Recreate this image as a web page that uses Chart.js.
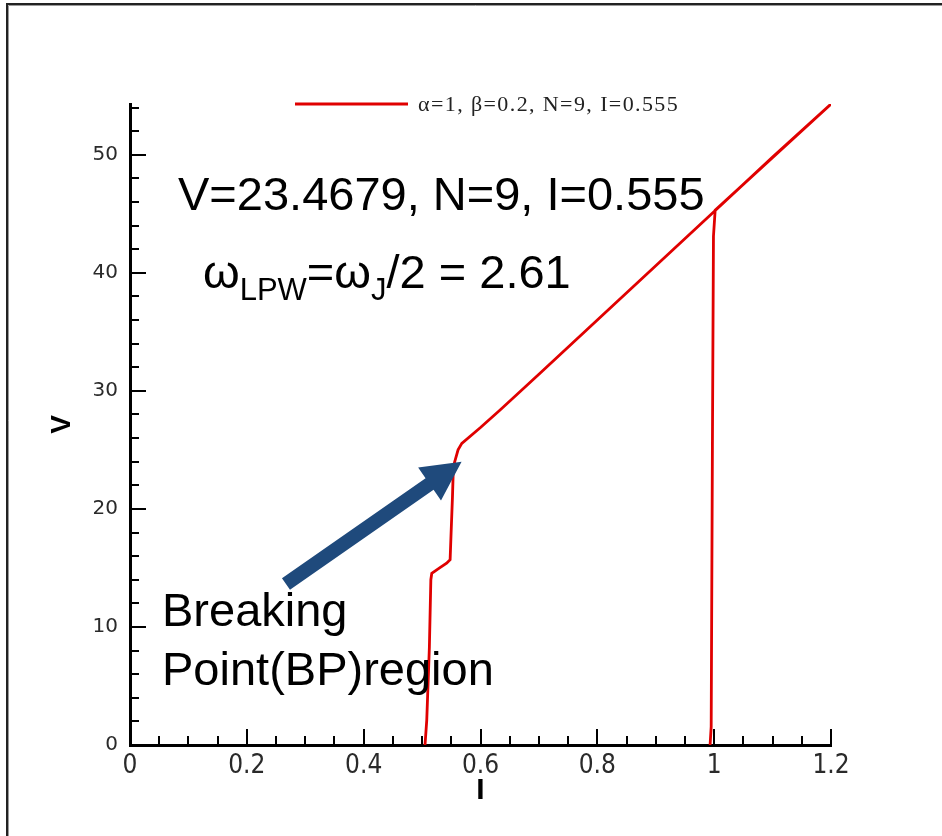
<!DOCTYPE html>
<html>
<head>
<meta charset="utf-8">
<style>
  html, body { margin: 0; padding: 0; background: #fff; }
  #wrap { width: 942px; height: 836px; }
</style>
<script src="https://cdn.jsdelivr.net/npm/chart.js@4.4.1/dist/chart.umd.min.js"></script>
</head>
<body>
<div id="wrap"><canvas id="ivChart" width="942" height="836"></canvas></div>
<script>
// I-V curve (sweep up, then back down from I=1.2)
const currentI = [0.505, 0.508, 0.5125, 0.515, 0.5166, 0.530, 0.542, 0.548, 0.5497, 0.552, 0.5536,
  0.5616, 0.568, 0.600, 0.634, 0.700, 0.800, 0.900, 1.000, 1.100, 1.200,
  1.0017, 0.9988, 0.997, 0.9949, 0.993];
const voltageV = [0, 2.1, 8.3, 14.0, 14.55, 15.0, 15.4, 15.7, 18.0, 21.0, 23.6,
  25.0, 25.55, 26.9, 28.4, 31.4, 36.0, 40.6, 45.2, 49.8, 54.3,
  45.3, 43.1, 25.3, 1.55, 0];
const seriesLabel = 'α=1, β=0.2, N=9, I=0.555';
const xTicks = [0, 0.2, 0.4, 0.6, 0.8, 1, 1.2];
const yTicks = [0, 10, 20, 30, 40, 50];

// arrow from label to breaking point, in data units
const arrowTail = [0.267, 13.64];
const arrowTip = [0.5676, 24.0];

const points = currentI.map((v, i) => ({ x: v, y: voltageV[i] }));

const SANS = '"Liberation Sans", Arial, sans-serif';

// frame, legend, inward ticks, notes and arrow
const decorations = {
  id: 'decorations',
  beforeDraw(chart) {
    const ctx = chart.ctx;
    ctx.save();
    ctx.strokeStyle = '#9a9a9a';
    ctx.lineWidth = 1;
    ctx.beginPath();
    ctx.moveTo(8.5, 836); ctx.lineTo(8.5, 5.5); ctx.lineTo(942, 5.5);
    ctx.stroke();
    ctx.strokeStyle = '#222';
    ctx.lineWidth = 2;
    ctx.beginPath();
    ctx.moveTo(7, 836); ctx.lineTo(7, 4); ctx.lineTo(942, 4);
    ctx.stroke();
    ctx.restore();
  },
  afterDatasetsDraw(chart) {
    const { ctx, scales: { x, y } } = chart;
    ctx.save();

    // inward tick marks
    ctx.strokeStyle = '#000';
    ctx.lineWidth = 2;
    ctx.beginPath();
    for (let i = 0; i <= 24; i++) {
      const px = Math.round(x.getPixelForValue(i * 0.05));
      const len = i % 4 === 0 ? 16 : 9;
      ctx.moveTo(px, y.bottom); ctx.lineTo(px, y.bottom - len);
    }
    for (let i = 0; i * 2 <= y.max; i++) {
      const py = Math.round(y.getPixelForValue(i * 2));
      const len = i % 5 === 0 ? 16 : 9;
      ctx.moveTo(x.left, py); ctx.lineTo(x.left + len, py);
    }
    ctx.stroke();

    // legend
    const ds = chart.data.datasets[0];
    ctx.strokeStyle = ds.borderColor;
    ctx.lineWidth = 3;
    ctx.beginPath();
    ctx.moveTo(295, 104); ctx.lineTo(408, 104);
    ctx.stroke();
    ctx.fillStyle = '#222';
    ctx.font = '22px "Liberation Serif", "Times New Roman", serif';
    ctx.letterSpacing = '1.4px';
    ctx.textBaseline = 'alphabetic';
    ctx.textAlign = 'left';
    ctx.fillText(ds.label, 418, 111);
    ctx.letterSpacing = '0px';

    // notes
    ctx.fillStyle = '#000';
    ctx.font = '47px ' + SANS;
    ctx.fillText('V=23.4679, N=9, I=0.555', 178, 210);
    ctx.fillText('Breaking', 162, 626);
    ctx.fillText('Point(BP)region', 162, 685);

    let cx = 203;
    const big = '47px ' + SANS, small = '31px ' + SANS;
    const part = (txt, font, base) => {
      ctx.font = font;
      ctx.fillText(txt, cx, base);
      cx += ctx.measureText(txt).width;
    };
    part('ω', big, 288);
    part('LPW', small, 300);
    part('=ω', big, 288);
    part('J', small, 300);
    part('/2 = 2.61', big, 288);

    // arrow
    const tx = x.getPixelForValue(arrowTail[0]), ty = y.getPixelForValue(arrowTail[1]);
    const hx = x.getPixelForValue(arrowTip[0]), hy = y.getPixelForValue(arrowTip[1]);
    const ang = Math.atan2(hy - ty, hx - tx);
    const len = Math.hypot(hx - tx, hy - ty);
    ctx.translate(tx, ty);
    ctx.rotate(ang);
    ctx.fillStyle = '#1f4a7c';
    ctx.beginPath();
    ctx.moveTo(0, -7);
    ctx.lineTo(len - 39, -7);
    ctx.lineTo(len - 39, -20);
    ctx.lineTo(len, 0);
    ctx.lineTo(len - 39, 20);
    ctx.lineTo(len - 39, 7);
    ctx.lineTo(0, 7);
    ctx.closePath();
    ctx.fill();

    ctx.restore();
  }
};

new Chart(document.getElementById('ivChart'), {
  type: 'scatter',
  data: {
    datasets: [{
      label: seriesLabel,
      data: points,
      showLine: true,
      borderColor: '#e00000',
      borderWidth: 2.8,
      pointRadius: 0,
      tension: 0
    }]
  },
  options: {
    responsive: false,
    animation: false,
    layout: { padding: { left: 0, top: 104, right: 111, bottom: 0 } },
    plugins: {
      legend: { display: false },
      tooltip: { enabled: false }
    },
    scales: {
      x: {
        type: 'linear',
        min: 0,
        max: 1.2,
        afterFit(scale) { scale.height = 91; },
        afterBuildTicks(scale) { scale.ticks = xTicks.map(v => ({ value: v })); },
        grid: { display: false, drawTicks: false },
        border: { display: true, color: '#000', width: 3 },
        ticks: {
          padding: 6,
          color: '#2a2a2a',
          font: { family: '"Liberation Sans Narrow", "DejaVu Sans Condensed", Arial, sans-serif', size: 26 },
          callback: v => String(+v.toFixed(1))
        },
        title: {
          display: true,
          text: 'I',
          color: '#000',
          font: { family: SANS, size: 30, weight: 'bold' },
          padding: { top: 0, bottom: 27 }
        }
      },
      y: {
        type: 'linear',
        min: 0,
        max: 54.3,
        afterFit(scale) { scale.width = 130; },
        afterBuildTicks(scale) { scale.ticks = yTicks.map(v => ({ value: v })); },
        grid: { display: false, drawTicks: false },
        border: { display: true, color: '#000', width: 3 },
        ticks: {
          padding: 12,
          color: '#2a2a2a',
          font: { family: '"DejaVu Sans", sans-serif', size: 20 },
          callback: v => String(v)
        },
        title: {
          display: true,
          text: 'V',
          color: '#000',
          font: { family: SANS, size: 28, weight: 'bold' },
          padding: { top: 45, bottom: 0 }
        }
      }
    }
  },
  plugins: [decorations]
});
</script>
</body>
</html>
